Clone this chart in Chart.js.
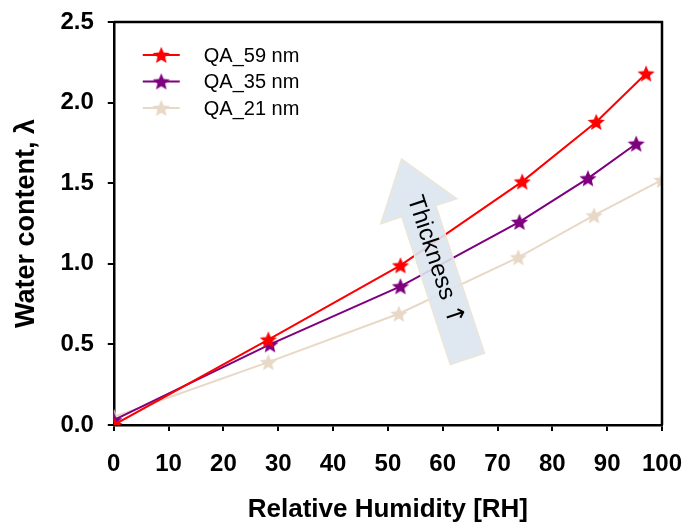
<!DOCTYPE html>
<html>
<head>
<meta charset="utf-8">
<script src="https://cdn.jsdelivr.net/npm/chart.js@4"></script>
<style>
  html, body { margin: 0; padding: 0; background: #fff; }
  #wrap { width: 687px; height: 523px; }
</style>
</head>
<body>
<div id="wrap"><canvas id="chart"></canvas></div>
<script>
// data
const rh59 = [0, 28.2, 52.3, 74.5, 88, 97.1];
const lam59 = [0.0, 0.53, 0.99, 1.51, 1.88, 2.18];
const rh35 = [0, 28.5, 52.3, 74, 86.5, 95.3];
const lam35 = [0.03, 0.50, 0.86, 1.26, 1.53, 1.745];
const rh21 = [0, 28.2, 52, 73.8, 87.6, 100];
const lam21 = [0.05, 0.39, 0.69, 1.04, 1.30, 1.52];
const seriesNames = ["QA_59 nm", "QA_35 nm", "QA_21 nm"];
const colors = ["#ff0000", "#7f007f", "#e8d8c6"];

const FONT = "'Liberation Sans', Arial, sans-serif";

function starImg(color, r) {
  const c = document.createElement("canvas");
  const s = Math.ceil(r * 2 + 2);
  c.width = s; c.height = s;
  const g = c.getContext("2d");
  g.translate(s / 2, s / 2 + 0.8);
  g.beginPath();
  for (let i = 0; i < 10; i++) {
    const rad = i % 2 === 0 ? r : r * 0.45;
    const a = -Math.PI / 2 + i * Math.PI / 5;
    g.lineTo(Math.cos(a) * rad, Math.sin(a) * rad);
  }
  g.closePath();
  g.fillStyle = color;
  g.fill();
  return c;
}

function pts(xs, ys) {
  return xs.map((x, i) => ({ x: x, y: ys[i] }));
}

const allX = [rh59, rh35, rh21];
const allY = [lam59, lam35, lam21];
const stars = colors.map(c => starImg(c, 9));

const datasets = seriesNames.map((name, i) => ({
  label: name,
  data: pts(allX[i], allY[i]),
  borderColor: colors[i],
  backgroundColor: colors[i],
  borderWidth: 2,
  pointStyle: stars[i],
  tension: 0
}));

// box edges, legend and the "Thickness" arrow
const extras = {
  id: "extras",
  afterDatasetsDraw(chart) {
    const ctx = chart.ctx;
    const a = chart.chartArea;
    const xs = chart.scales.x, ys = chart.scales.y;
    ctx.save();
    ctx.strokeStyle = "#000";
    ctx.lineWidth = 2.5;
    ctx.beginPath();
    ctx.moveTo(a.left, a.top);
    ctx.lineTo(a.right, a.top);
    ctx.lineTo(a.right, a.bottom);
    ctx.stroke();

    // legend
    ctx.font = "20px " + FONT;
    ctx.textBaseline = "middle";
    seriesNames.forEach((name, i) => {
      const y = a.top + 33 + i * 26.5;
      const x0 = a.left + 29;
      ctx.strokeStyle = colors[i];
      ctx.lineWidth = 2;
      ctx.beginPath();
      ctx.moveTo(x0, y);
      ctx.lineTo(x0 + 37, y);
      ctx.stroke();
      ctx.drawImage(stars[i], x0 + 18.5 - stars[i].width / 2, y - stars[i].height / 2);
      ctx.fillStyle = "#000";
      ctx.fillText(name, x0 + 61, y + 1);
    });

    // arrow
    const tip = { x: xs.getPixelForValue(52.5), y: ys.getPixelForValue(1.65) };
    const base = { x: xs.getPixelForValue(64.5), y: ys.getPixelForValue(0.41) };
    const dx = tip.x - base.x, dy = tip.y - base.y;
    const len = Math.hypot(dx, dy);
    const ang = Math.atan2(dy, dx);
    ctx.translate(base.x, base.y);
    ctx.rotate(ang);
    const hw = 18, headW = 40, headL = 55;
    ctx.beginPath();
    ctx.moveTo(0, -hw);
    ctx.lineTo(len - headL, -hw);
    ctx.lineTo(len - headL, -headW);
    ctx.lineTo(len, 0);
    ctx.lineTo(len - headL, headW);
    ctx.lineTo(len - headL, hw);
    ctx.lineTo(0, hw);
    ctx.closePath();
    ctx.fillStyle = "rgba(220,230,240,0.9)";
    ctx.fill();
    ctx.strokeStyle = "#ece6d6";
    ctx.lineWidth = 1.5;
    ctx.stroke();
    // text reads from tip toward base
    ctx.rotate(Math.PI);
    ctx.fillStyle = "#000";
    ctx.textAlign = "left";
    ctx.textBaseline = "middle";
    ctx.font = "24px " + FONT;
    const word = "Thickness ";
    const w1 = ctx.measureText(word).width;
    ctx.font = "25px 'DejaVu Sans', sans-serif";
    const w2 = ctx.measureText("\u2191").width;
    const start = -len * 0.5 + 2 - (w1 + w2) / 2;
    ctx.font = "24px " + FONT;
    ctx.fillText(word, start, 0);
    ctx.font = "25px 'DejaVu Sans', sans-serif";
    ctx.fillText("\u2191", start + w1, 0);
    ctx.restore();
  }
};

new Chart(document.getElementById("chart"), {
  type: "line",
  data: { datasets: datasets },
  options: {
    responsive: true,
    maintainAspectRatio: false,
    animation: false,
    layout: { padding: { left: 10, top: 22, right: 25, bottom: 0 } },
    plugins: {
      legend: { display: false },
      tooltip: { enabled: false }
    },
    scales: {
      x: {
        type: "linear",
        min: 0,
        max: 100,
        afterFit: s => { s.paddingRight = 0; },
        ticks: {
          stepSize: 10,
          color: "#000",
          padding: 21,
          font: { family: FONT, size: 24, weight: "bold", lineHeight: 1 }
        },
        grid: { drawOnChartArea: false, drawTicks: true, tickLength: 6, color: "#000", lineWidth: 2 },
        border: { display: true, color: "#000", width: 2.5 },
        title: {
          display: true,
          text: "Relative Humidity [RH]",
          color: "#000",
          padding: { top: 0, bottom: 0 },
          font: { family: FONT, size: 26, weight: "bold", lineHeight: 1 }
        }
      },
      y: {
        min: 0,
        max: 2.5,
        afterFit: s => { s.paddingTop = 0; },
        ticks: {
          stepSize: 0.5,
          color: "#000",
          padding: 14,
          callback: v => v.toFixed(1),
          font: { family: FONT, size: 24, weight: "bold" }
        },
        grid: { drawOnChartArea: false, drawTicks: true, tickLength: 6, color: "#000", lineWidth: 2 },
        border: { display: true, color: "#000", width: 2.5 },
        title: {
          display: true,
          text: "Water content, \u03bb",
          color: "#000",
          padding: { top: 0, bottom: 4 },
          font: { family: FONT, size: 27, weight: "bold" }
        }
      }
    }
  },
  plugins: [extras]
});
</script>
</body>
</html>
